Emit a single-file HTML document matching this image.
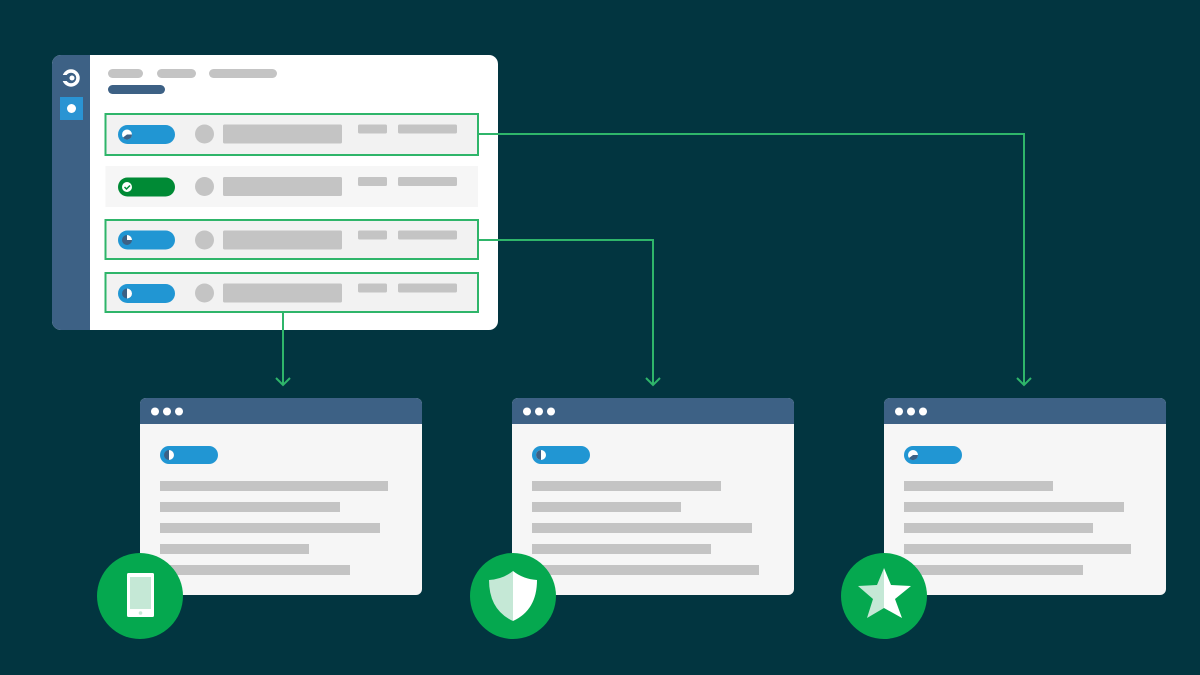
<!DOCTYPE html>
<html><head><meta charset="utf-8"><style>html,body{margin:0;padding:0;background:#003440;}svg{display:block}</style></head>
<body>
<svg width="1200" height="675" viewBox="0 0 1200 675" xmlns="http://www.w3.org/2000/svg">
<rect width="1200" height="675" fill="#023540"/>
<!-- main panel -->
<rect x="52" y="55" width="446" height="275" rx="9" fill="#ffffff"/>
<path d="M61 55 H90 V330 H61 A9 9 0 0 1 52 321 V64 A9 9 0 0 1 61 55 Z" fill="#3d6185"/>
<circle cx="71" cy="78" r="7" fill="none" stroke="#fff" stroke-width="3.5"/>
<rect x="61" y="75" width="6" height="6" fill="#3d6185"/>
<circle cx="72" cy="78" r="2.5" fill="#fff"/>
<rect x="60" y="97" width="23" height="23" fill="#2a94d3"/>
<circle cx="71.5" cy="108.5" r="4.5" fill="#fff"/>
<rect x="108" y="69" width="35" height="9" rx="4.5" fill="#c4c4c4"/>
<rect x="157" y="69" width="39" height="9" rx="4.5" fill="#c4c4c4"/>
<rect x="209" y="69" width="68" height="9" rx="4.5" fill="#c4c4c4"/>
<rect x="108" y="85" width="57" height="9" rx="4.5" fill="#3d6185"/>
<!-- rows -->
<g>
<rect x="105.5" y="114" width="372.5" height="41" fill="#f2f2f2" stroke="#2fb56a" stroke-width="2"/>
<rect x="105.5" y="166" width="372.5" height="41" fill="#f6f6f6"/>
<rect x="105.5" y="220" width="372.5" height="39" fill="#f2f2f2" stroke="#2fb56a" stroke-width="2"/>
<rect x="105.5" y="273" width="372.5" height="39" fill="#f2f2f2" stroke="#2fb56a" stroke-width="2"/>
</g>
<g fill="#c4c4c4">
<circle cx="204.5" cy="134" r="9.5"/><rect x="223" y="124.5" width="119" height="19" rx="1.5"/><rect x="358" y="124.5" width="29" height="9" rx="1.5"/><rect x="398" y="124.5" width="59" height="9" rx="1.5"/>
<circle cx="204.5" cy="186.5" r="9.5"/><rect x="223" y="177" width="119" height="19" rx="1.5"/><rect x="358" y="177" width="29" height="9" rx="1.5"/><rect x="398" y="177" width="59" height="9" rx="1.5"/>
<circle cx="204.5" cy="240" r="9.5"/><rect x="223" y="230.5" width="119" height="19" rx="1.5"/><rect x="358" y="230.5" width="29" height="9" rx="1.5"/><rect x="398" y="230.5" width="59" height="9" rx="1.5"/>
<circle cx="204.5" cy="293" r="9.5"/><rect x="223" y="283.5" width="119" height="19" rx="1.5"/><rect x="358" y="283.5" width="29" height="9" rx="1.5"/><rect x="398" y="283.5" width="59" height="9" rx="1.5"/>
</g>
<!-- pills -->
<rect x="118" y="125" width="57" height="19" rx="9.5" fill="#2196d3"/>
<circle cx="127" cy="134.5" r="5" fill="#fff"/><path d="M127 134.5 H132 A5 5 0 0 1 123 137.5 Z" fill="#3d6185"/>
<rect x="118" y="177.5" width="57" height="19" rx="9.5" fill="#008a35"/>
<circle cx="127" cy="187" r="5" fill="#fff"/><path d="M124.5 187 l2 2 l3.5 -3.5" stroke="#008a35" stroke-width="1.5" fill="none"/>
<rect x="118" y="230.5" width="57" height="19" rx="9.5" fill="#2196d3"/>
<circle cx="127" cy="240" r="5" fill="#3d6185"/><path d="M127 240 V235 A5 5 0 0 1 132 240 Z" fill="#fff"/>
<rect x="118" y="284" width="57" height="19" rx="9.5" fill="#2196d3"/>
<circle cx="127" cy="293.5" r="5" fill="#3d6185"/><path d="M127 288.5 A5 5 0 0 1 127 298.5 Z" fill="#fff"/>
<!-- connectors -->
<g stroke="#2fb56a" stroke-width="2" fill="none">
<polyline points="478,134 1024,134 1024,385"/>
<polyline points="1017,378 1024,385 1031,378"/>
<polyline points="478,240 653,240 653,385"/>
<polyline points="646,378 653,385 660,378"/>
<polyline points="283,312 283,385"/>
<polyline points="276,378 283,385 290,378"/>
</g>
<!-- windows -->
<g id="w">
<rect x="140" y="398" width="282" height="197" rx="6" fill="#f6f6f6"/>
<path d="M146 398 H416 A6 6 0 0 1 422 404 V424 H140 V404 A6 6 0 0 1 146 398 Z" fill="#3d6185"/>
<circle cx="155" cy="411.5" r="4" fill="#fff"/><circle cx="167" cy="411.5" r="4" fill="#fff"/><circle cx="179" cy="411.5" r="4" fill="#fff"/>
<rect x="160" y="446" width="58" height="18" rx="9" fill="#2196d3"/>
</g>
<rect x="512" y="398" width="282" height="197" rx="6" fill="#f6f6f6"/>
<path d="M518 398 H788 A6 6 0 0 1 794 404 V424 H512 V404 A6 6 0 0 1 518 398 Z" fill="#3d6185"/>
<circle cx="527" cy="411.5" r="4" fill="#fff"/><circle cx="539" cy="411.5" r="4" fill="#fff"/><circle cx="551" cy="411.5" r="4" fill="#fff"/>
<rect x="532" y="446" width="58" height="18" rx="9" fill="#2196d3"/>
<rect x="884" y="398" width="282" height="197" rx="6" fill="#f6f6f6"/>
<path d="M890 398 H1160 A6 6 0 0 1 1166 404 V424 H884 V404 A6 6 0 0 1 890 398 Z" fill="#3d6185"/>
<circle cx="899" cy="411.5" r="4" fill="#fff"/><circle cx="911" cy="411.5" r="4" fill="#fff"/><circle cx="923" cy="411.5" r="4" fill="#fff"/>
<rect x="904" y="446" width="58" height="18" rx="9" fill="#2196d3"/>
<!-- pill icons in windows -->
<circle cx="169" cy="455" r="5" fill="#3d6185"/><path d="M169 450 A5 5 0 0 1 169 460 Z" fill="#fff"/>
<circle cx="541" cy="455" r="5" fill="#fff"/><path d="M541 455 V450 A5 5 0 0 0 536 455 A5 5 0 0 0 541 460 Z" fill="#3d6185"/>
<circle cx="913" cy="455" r="5" fill="#fff"/><path d="M913 455 H918 A5 5 0 0 1 909 458 Z" fill="#3d6185"/>
<g fill="#c4c4c4">
<rect x="160" y="481" width="228" height="10"/><rect x="160" y="502" width="180" height="10"/><rect x="160" y="523" width="220" height="10"/><rect x="160" y="544" width="149" height="10"/><rect x="160" y="565" width="190" height="10"/>
<rect x="532" y="481" width="189" height="10"/><rect x="532" y="502" width="149" height="10"/><rect x="532" y="523" width="220" height="10"/><rect x="532" y="544" width="179" height="10"/><rect x="532" y="565" width="227" height="10"/>
<rect x="904" y="481" width="149" height="10"/><rect x="904" y="502" width="220" height="10"/><rect x="904" y="523" width="189" height="10"/><rect x="904" y="544" width="227" height="10"/><rect x="904" y="565" width="179" height="10"/>
</g>
<!-- badges -->
<circle cx="140" cy="596" r="43" fill="#05a84f"/>
<rect x="127" y="573" width="27" height="44" rx="1.5" fill="#fff"/>
<rect x="130" y="577" width="21" height="32" fill="#c5e8d6"/>
<circle cx="140.5" cy="613" r="1.8" fill="#c5e8d6"/>
<circle cx="513" cy="596" r="43" fill="#05a84f"/>
<path d="M513 571 Q503 579 489 580 Q489 610 513 621 Z" fill="#c5e8d6"/>
<path d="M513 571 Q523 579 537 580 Q537 610 513 621 Z" fill="#fff"/>
<circle cx="884" cy="596" r="43" fill="#05a84f"/>
<path d="M884 568 L877 585 L858 586 L873 599 L867 618 L884 608 Z" fill="#c5e8d6"/>
<path d="M884 568 L891 585 L911 586 L895 599 L902 618 L884 608 Z" fill="#fff"/>
</svg>
</body></html>
